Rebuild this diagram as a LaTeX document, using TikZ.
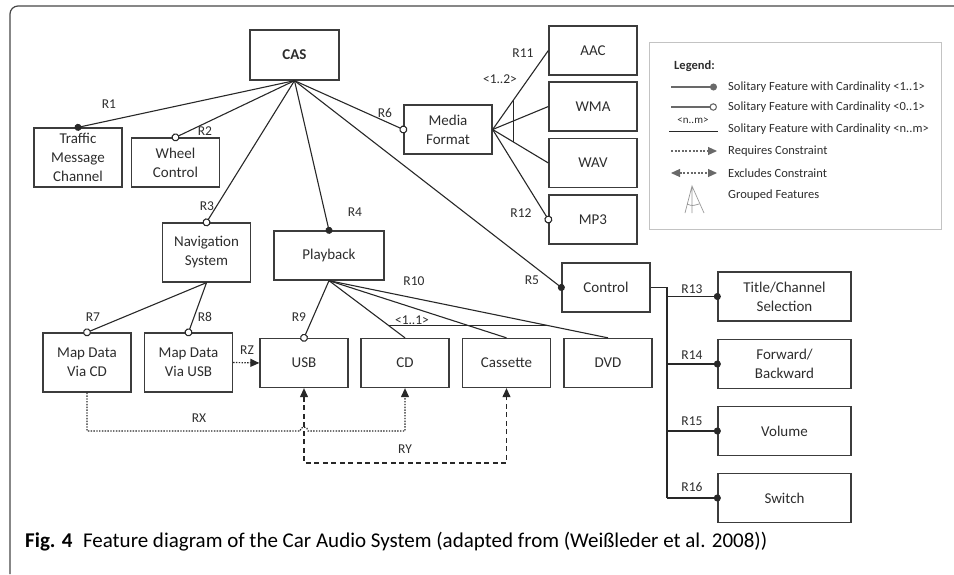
\documentclass[tikz,border=0pt]{standalone}
\usepackage{fontspec}
\setmainfont{Carlito}
\usepackage{tikz}
\usetikzlibrary{arrows.meta, calc, positioning}
\definecolor{boxgray}{RGB}{60,60,60}
\definecolor{linegray}{RGB}{40,40,40}
\definecolor{textgray}{RGB}{45,45,45}
\definecolor{leggray}{RGB}{105,105,105}
\definecolor{legframe}{RGB}{195,195,195}
\definecolor{framegray}{RGB}{70,70,70}

\begin{document}
\begin{tikzpicture}[x=1pt, y=-1pt,
    feat/.style={draw=boxgray, line width=1.3pt, minimum width=88pt, minimum height=49pt, inner sep=1pt, align=center, text=textgray, font=\fontsize{15}{19}\selectfont},
    rel/.style={text=textgray, inner sep=0pt, font=\fontsize{13.5}{15}\selectfont},
    conn/.style={draw=linegray, line width=1.1pt},
    mand/.style={conn, -{Circle[length=7pt]}, shorten >=-3.5pt},
    opt/.style={conn, -{Circle[length=8pt, fill=white]}, shorten >=-4pt},
    req/.style={draw=linegray, line width=1.2pt, dash pattern=on 1.4pt off 1.4pt, -{Triangle[length=9pt, width=8pt]}},
    excl/.style={draw=linegray, line width=1.1pt, dash pattern=on 5pt off 3.5pt, {Triangle[length=9pt, width=8pt]}-{Triangle[length=9pt, width=8pt]}},
    legtext/.style={anchor=west, inner sep=0pt, text=textgray, font=\fontsize{12.5}{14}\selectfont},
    leg/.style={draw=leggray, line width=1.1pt}
]
\useasboundingbox (0,0) rectangle (954,574);
\draw[framegray, line width=1.2pt, rounded corners=8pt] (10,574) -- (10,6) -- (954,6);

% Root and first level
\node[feat, minimum width=89pt, minimum height=50pt, font=\fontsize{15}{19}\selectfont\bfseries] (cas) at (294.5,55) {CAS};
\node[feat, minimum height=59pt] (tmc) at (78,157.5) {Traffic\\Message\\Channel};
\node[feat] (wc) at (175.5,162.5) {Wheel\\Control};
\node[feat, minimum height=59pt] (nav) at (206.5,252.5) {Navigation\\System};
\node[feat, minimum width=110pt] (play) at (329,255.5) {Playback};
\node[feat] (ctrl) at (606,287.5) {Control};
\node[feat] (mf) at (448,129.5) {Media\\Format};

% Media formats
\node[feat] (aac) at (593,50.5) {AAC};
\node[feat] (wma) at (593,106.5) {WMA};
\node[feat] (wav) at (593,163) {WAV};
\node[feat] (mp3) at (593,219.5) {MP3};

% Navigation and playback children
\node[feat, minimum height=59pt] (mdcd) at (87,362.5) {Map Data\\Via CD};
\node[feat, minimum height=59pt] (mdusb) at (188.5,362.5) {Map Data\\Via USB};
\node[feat] (usb) at (304,363) {USB};
\node[feat] (cd) at (405,363) {CD};
\node[feat] (cass) at (506.5,363) {Cassette};
\node[feat] (dvd) at (608,363) {DVD};

% Control children
\node[feat, minimum width=133pt] (title) at (784.5,296.5) {Title/Channel\\Selection};
\node[feat, minimum width=133pt] (fwd) at (784.5,364) {Forward/\\Backward};
\node[feat, minimum width=133pt] (vol) at (784.5,431) {Volume};
\node[feat, minimum width=133pt] (sw) at (784.5,498) {Switch};

% Relations from the root
\draw[mand] (cas.south) -- (tmc.north);
\draw[opt] (cas.south) -- (wc.north);
\draw[opt] (cas.south) -- (nav.north);
\draw[mand] (cas.south) -- (play.north);
\draw[mand] (cas.south) -- (ctrl.west);
\draw[opt] (cas.south) -- (mf.west);

% Media format group
\draw[conn] (mf.east) -- (aac.west);
\draw[conn] (mf.east) -- (wma.west);
\draw[conn] (mf.east) -- (wav.west);
\draw[conn] ($(mf.east)!0.37!(aac.west)$) -- ($(mf.east)!0.37!(wav.west)$);
\draw[opt] (mf.east) -- (mp3.west);

% Navigation
\draw[opt] (nav.south) -- (mdcd.north);
\draw[opt] (nav.south) -- (mdusb.north);

% Playback group
\draw[opt] (play.south) -- (usb.north);
\draw[conn] (play.south) -- (cd.north);
\draw[conn] (play.south) -- (cass.north);
\draw[conn] (play.south) -- (dvd.north);
\draw[conn] ($(play.south)!0.79!(cd.north)$) -- ($(play.south)!0.79!(dvd.north)$);

% Control bus
\coordinate (bus) at (667,288);
\draw[conn] (ctrl.east) -| (bus |- sw.west);
\draw[mand] (bus |- title.west) -- (title.west);
\draw[mand] (bus |- fwd.west) -- (fwd.west);
\draw[mand] (bus |- vol.west) -- (vol.west);
\draw[mand] (bus |- sw.west) -- (sw.west);

% Constraints
\coordinate (rxlev) at (0,431);
\coordinate (rylev) at (0,463);
\draw[req] (mdusb.east) -- (usb.west);
\draw[req] (mdcd.south) -- (mdcd.south |- rxlev) -- ($(usb.south |- rxlev)+(-4,0)$) arc[start angle=180, end angle=0, radius=4pt] -- (cd.south |- rxlev) -- (cd.south);
\draw[excl] (usb.south) -- (usb.south |- rylev) -- (cass.south |- rylev) -- (cass.south);

% Relation labels
\node[rel] (lr1) at (109,104) {R1};
\node[rel] (lr2) at (205,131) {R2};
\node[rel] (lr3) at (207,206) {R3};
\node[rel] (lr4) at (355,212) {R4};
\node[rel] (lr5) at (532,280) {R5};
\node[rel] (lr6) at (385,113) {R6};
\node[rel] (lr7) at (93,317) {R7};
\node[rel] (lr8) at (205,317) {R8};
\node[rel] (lr9) at (299,317) {R9};
\node[rel] (lr10) at (414,281) {R10};
\node[rel] (lr11) at (523,53) {R11};
\node[rel] (lr12) at (521,213) {R12};
\node[rel] (lr13) at (692,289) {R13};
\node[rel] (lr14) at (692,355) {R14};
\node[rel] (lr15) at (692,421) {R15};
\node[rel] (lr16) at (692,487) {R16};
\node[rel] (card12) at (500,79) {<1..2>};
\node[rel] (card11) at (412,320) {<1..1>};
\node[rel] (lrz) at (247,350) {RZ};
\node[rel] (lrx) at (199,418) {RX};
\node[rel] (lry) at (405,449) {RY};

% Legend
\draw[legframe, line width=0.9pt] (649,42) rectangle (941,229);
\node[legtext, font=\fontsize{12.5}{14}\selectfont\bfseries] (legtitle) at (674,66) {Legend:};
\node[legtext] (lt1) at (728,87) {Solitary Feature with Cardinality <1..1>};
\node[legtext] (lt2) at (728,107) {Solitary Feature with Cardinality <0..1>};
\node[legtext] (lt3) at (728,129) {Solitary Feature with Cardinality <n..m>};
\node[legtext] (lt4) at (728,151) {Requires Constraint};
\node[legtext] (lt5) at (728,173) {Excludes Constraint};
\node[legtext] (lt6) at (728,195) {Grouped Features};
\draw[leg, -{Circle[length=7pt]}] ($(lt1.west)+(-57,0)$) -- ($(lt1.west)+(-11,0)$);
\draw[leg, -{Circle[length=7.5pt, fill=white]}] ($(lt2.west)+(-57,0)$) -- ($(lt2.west)+(-11,0)$);
\draw[conn, line width=0.9pt] ($(lt3.west)+(-59,2)$) -- ($(lt3.west)+(-10,2)$);
\node[rel, font=\fontsize{11}{12}\selectfont] (legnm) at ($(lt3.west)+(-35,-8)$) {<n..m>};
\draw[leg, dash pattern=on 2pt off 1.6pt, -{Triangle[length=9pt, width=8pt]}] ($(lt4.west)+(-57,0)$) -- ($(lt4.west)+(-11,0)$);
\draw[leg, dash pattern=on 2pt off 1.6pt, {Triangle[length=9pt, width=8pt]}-{Triangle[length=9pt, width=8pt]}] ($(lt5.west)+(-57,0)$) -- ($(lt5.west)+(-11,0)$);
\draw[leggray!70, line width=0.7pt] ($(lt6.west)+(-43,18)$) -- ($(lt6.west)+(-36,-9)$) -- ($(lt6.west)+(-24,18)$)
  ($(lt6.west)+(-36,-9)$) -- ($(lt6.west)+(-36,18)$)
  ($(lt6.west)+(-41,9)$) .. controls ($(lt6.west)+(-36,11)$) .. ($(lt6.west)+(-29,9)$);

% Caption
\node[anchor=west, inner sep=0pt, text=black, font=\fontsize{21}{23}\selectfont] (caption) at (25,542) {\textbf{Fig. 4}\hspace{0.5em}Feature diagram of the Car Audio System (adapted from (Weißleder et al. 2008))};
\end{tikzpicture}
\end{document}
